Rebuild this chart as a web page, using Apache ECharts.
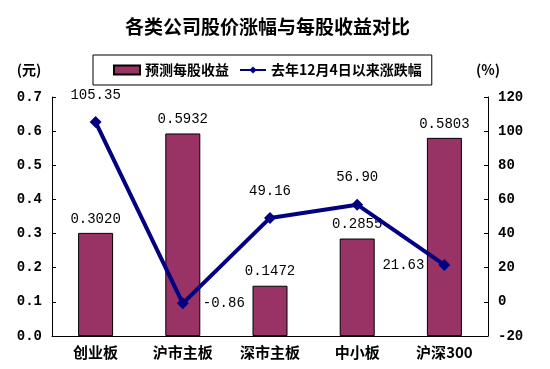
<!DOCTYPE html>
<html><head><meta charset="utf-8">
<script src="https://cdn.jsdelivr.net/npm/echarts@6/dist/echarts.min.js"></script>
<style>html,body{margin:0;padding:0;background:#fff}#c{width:550px;height:369px}</style>
</head><body><div id="c"></div>
<script>
const categories = ['创业板', '沪市主板', '深市主板', '中小板', '沪深300'];
const epsValues = [0.3020, 0.5932, 0.1472, 0.2855, 0.5803];
const changeValues = [105.35, -0.86, 49.16, 56.90, 21.63];
const changeLabelPos = ['top', 'right', 'top', 'top', 'left'];
const leftTicks = { min: 0, max: 0.7, interval: 0.1 };
const rightTicks = { min: -20, max: 120, interval: 20 };

const numFont = "'Liberation Mono', 'Noto Sans CJK SC', monospace";
const cjkFont = "'Noto Sans CJK SC', sans-serif";
const chart = echarts.init(document.getElementById('c'));
chart.setOption({
  backgroundColor: '#fff',
  animation: false,
  title: {
    text: '各类公司股价涨幅与每股收益对比',
    left: 120, top: 12,
    textStyle: { fontFamily: cjkFont, fontSize: 19, fontWeight: 'bold', color: '#000' }
  },
  legend: {
    top: 55, left: 93, orient: 'horizontal',
    borderColor: '#000', borderWidth: 1, padding: [8, 10, 8, 20],
    itemGap: 10, itemWidth: 26, itemHeight: 9,
    textStyle: { fontFamily: cjkFont, fontSize: 14, fontWeight: 'bold', color: '#000' },
    data: [{ name: '预测每股收益', icon: 'rect' }, { name: '去年12月4日以来涨跌幅' }]
  },
  grid: { left: 52, right: 62, top: 97, bottom: 33 },
  xAxis: {
    type: 'category', data: categories,
    axisLine: { lineStyle: { color: '#000' } },
    axisTick: { inside: true, length: 5, lineStyle: { color: '#000' } },
    axisLabel: { fontFamily: cjkFont, fontSize: 15, fontWeight: 'bold', color: '#000', margin: 9 }
  },
  yAxis: [{
    type: 'value', min: leftTicks.min, max: leftTicks.max, interval: leftTicks.interval,
    name: '(元)', nameLocation: 'end', nameGap: 20,
    nameTextStyle: { fontFamily: cjkFont, fontSize: 14, fontWeight: 'bold', color: '#000', padding: [0, 46, 0, 0] },
    axisLine: { show: true, lineStyle: { color: '#000' } },
    axisTick: { show: true, inside: true, length: 4, lineStyle: { color: '#000' } },
    splitLine: { show: false },
    axisLabel: { fontFamily: numFont, fontSize: 14, fontWeight: 'bold', color: '#000', margin: 10,
      formatter: v => v.toFixed(1) }
  }, {
    type: 'value', min: rightTicks.min, max: rightTicks.max, interval: rightTicks.interval,
    name: '(%)', nameLocation: 'end', nameGap: 20,
    nameTextStyle: { fontFamily: cjkFont, fontSize: 14, fontWeight: 'bold', color: '#000', padding: [0, 0, 0, 0] },
    axisLine: { show: true, lineStyle: { color: '#000' } },
    axisTick: { show: true, inside: true, length: 4, lineStyle: { color: '#000' } },
    splitLine: { show: false },
    axisLabel: { fontFamily: numFont, fontSize: 14, fontWeight: 'bold', color: '#000', margin: 10 }
  }],
  series: [{
    name: '预测每股收益', type: 'bar', yAxisIndex: 0,
    data: epsValues, barWidth: 35,
    itemStyle: { color: '#993366', borderColor: '#000', borderWidth: 1 },
    label: { show: true, position: 'top', distance: 7, fontFamily: numFont, fontSize: 14, color: '#000',
      formatter: p => p.value.toFixed(4) }
  }, {
    name: '去年12月4日以来涨跌幅', type: 'line', yAxisIndex: 1,
    data: changeValues.map((v, i) => ({ value: v, label: { position: changeLabelPos[i] } })),
    symbol: 'diamond', symbolSize: 12,
    lineStyle: { color: '#000080', width: 4 },
    itemStyle: { color: '#000080' },
    label: { show: true, distance: 14, fontFamily: numFont, fontSize: 14, color: '#000',
      formatter: p => p.value.toFixed(2) }
  }]
});
</script></body></html>
